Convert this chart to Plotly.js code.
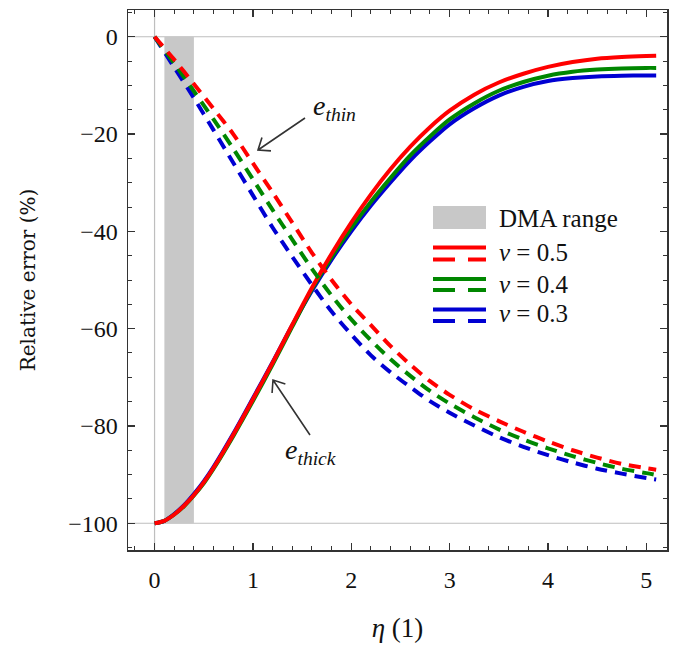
<!DOCTYPE html>
<html><head><meta charset="utf-8">
<script src="https://cdn.plot.ly/plotly-3.0.1.min.js"></script>
<style>html,body{margin:0;padding:0;background:#fff}#chart{width:679px;height:645px}</style>
</head><body><div id="chart"></div>
<script>
// ---- data ----
const etaThick = [0, 0.1, 0.2, 0.3, 0.4, 0.5, 0.6, 0.8, 1.0, 1.2, 1.4, 1.6, 1.8, 2.0, 2.2, 2.4, 2.6, 2.8, 3.0, 3.25, 3.5, 3.75, 4.0, 4.25, 4.5, 4.75, 5.0, 5.1];
const thickNu05 = [-100, -99.5, -98.2, -96.4, -94.2, -91.6, -88.6, -81.8, -74.5, -67.0, -59.2, -51.6, -44.6, -38.2, -32.4, -27.2, -22.6, -18.6, -15.2, -11.9, -9.4, -7.6, -6.2, -5.2, -4.5, -4.15, -3.95, -3.9];
const thickNu04 = [-100, -99.5, -98.2, -96.5, -94.3, -91.8, -88.8, -82.1, -74.9, -67.4, -59.6, -51.9, -45.3, -39.3, -33.9, -29.0, -24.4, -20.5, -17.0, -13.7, -11.1, -9.3, -8.0, -7.2, -6.75, -6.5, -6.4, -6.4];
const thickNu03 = [-100, -99.5, -98.1, -96.3, -94.0, -91.4, -88.4, -81.6, -74.3, -66.9, -59.3, -52.2, -45.8, -40.0, -34.7, -29.9, -25.4, -21.5, -18.0, -14.7, -12.1, -10.3, -9.1, -8.5, -8.15, -8.0, -7.95, -7.95];

const etaThin = [0, 0.2, 0.4, 0.6, 0.8, 1.0, 1.2, 1.4, 1.6, 1.8, 2.0, 2.2, 2.4, 2.6, 2.8, 3.0, 3.25, 3.5, 3.75, 4.0, 4.25, 4.5, 4.75, 5.0, 5.1];
const thinNu05 = [0, -4.7, -9.7, -14.8, -20.0, -26.0, -32.0, -38.2, -44.4, -50.0, -55.0, -59.3, -63.6, -67.4, -70.8, -73.6, -76.6, -79.0, -81.2, -83.2, -85.0, -86.5, -87.8, -88.7, -89.0];
const thinNu04 = [0, -5.5, -11.2, -17.0, -23.0, -29.3, -35.6, -41.7, -47.7, -53.2, -58.1, -62.4, -66.3, -69.7, -72.8, -75.4, -78.2, -80.7, -82.8, -84.6, -86.2, -87.6, -88.8, -89.7, -90.1];
const thinNu03 = [0, -6.3, -12.6, -19.2, -25.9, -32.6, -39.2, -45.2, -51.0, -56.5, -61.2, -65.5, -69.0, -72.0, -74.9, -77.3, -79.9, -82.3, -84.3, -86.0, -87.5, -88.8, -89.8, -90.7, -91.0];

const dmaRange = [0.1, 0.4];
const refLevels = [0, -100];
const nuValues = ['0.5', '0.4', '0.3'];
const dmaLabel = 'DMA range';
const xTitle = '<i>η</i> (1)';
const yTitle = 'Relative error (%)';
const thinLabel = '<i>e</i><sub><i>thin</i></sub>';
const thickLabel = '<i>e</i><sub><i>thick</i></sub>';

// ---- styling ----
const colors = ['rgb(255,0,0)', 'rgb(0,135,0)', 'rgb(0,0,210)'];
const bandColor = 'rgb(200,200,200)';
const W = 679, H = 645, M = {l: 128, r: 12, t: 10, b: 95};
const px = x => (x - M.l) / (W - M.l - M.r);
const py = y => (H - M.b - y) / (H - M.t - M.b);
const serif = 'Liberation Serif, Times New Roman, serif';

const thick = [thickNu05, thickNu04, thickNu03];
const thin = [thinNu05, thinNu04, thinNu03];

const traces = [];
traces.push({
  x: [dmaRange[0], dmaRange[1], dmaRange[1], dmaRange[0], dmaRange[0]],
  y: [refLevels[0], refLevels[0], refLevels[1], refLevels[1], refLevels[0]],
  mode: 'lines', fill: 'toself', fillcolor: bandColor,
  line: {width: 0, color: bandColor}, hoverinfo: 'skip', showlegend: false, name: dmaLabel
});
for (let i = 2; i >= 0; i--) {
  traces.push({x: etaThick, y: thick[i], mode: 'lines', name: 'e_thick ν=' + nuValues[i],
    line: {color: colors[i], width: 4, shape: 'spline', smoothing: 0.8}, showlegend: false});
}
for (let i = 2; i >= 0; i--) {
  traces.push({x: etaThin, y: thin[i], mode: 'lines', name: 'e_thin ν=' + nuValues[i],
    line: {color: colors[i], width: 4, dash: '12px,8px', shape: 'spline', smoothing: 0.8}, showlegend: false});
}

const shapes = [];
refLevels.forEach(v => shapes.push({type: 'line', xref: 'paper', x0: 0, x1: 1, yref: 'y', y0: v, y1: v,
  line: {color: 'rgb(190,190,190)', width: 1.2}, layer: 'below'}));
shapes.push({type: 'line', xref: 'x', x0: 0, x1: 0, yref: 'paper', y0: 0, y1: 1,
  line: {color: 'rgb(190,190,190)', width: 1.2}, layer: 'below'});

// manual legend
const lx0 = 433, lx1 = 486;
shapes.push({type: 'rect', xref: 'paper', yref: 'paper', x0: px(lx0), x1: px(lx1), y0: py(229), y1: py(206),
  fillcolor: bandColor, line: {width: 0}, layer: 'above'});
const rowSolid = [247.5, 279, 309.5];
const rowDash = [259.5, 290, 321];
const rowText = [253, 284, 314];
const annotations = [];
annotations.push({xref: 'paper', yref: 'paper', x: px(497), y: py(218), xanchor: 'left', yanchor: 'middle',
  text: dmaLabel, showarrow: false, font: {family: serif, size: 25, color: '#111'}});
for (let i = 0; i < 3; i++) {
  shapes.push({type: 'line', xref: 'paper', yref: 'paper', x0: px(lx0), x1: px(lx1), y0: py(rowSolid[i]), y1: py(rowSolid[i]),
    line: {color: colors[i], width: 4}, layer: 'above'});
  shapes.push({type: 'line', xref: 'paper', yref: 'paper', x0: px(lx0), x1: px(455), y0: py(rowDash[i]), y1: py(rowDash[i]),
    line: {color: colors[i], width: 4}, layer: 'above'});
  shapes.push({type: 'line', xref: 'paper', yref: 'paper', x0: px(468), x1: px(lx1), y0: py(rowDash[i]), y1: py(rowDash[i]),
    line: {color: colors[i], width: 4}, layer: 'above'});
  annotations.push({xref: 'paper', yref: 'paper', x: px(497), y: py(rowText[i]), xanchor: 'left', yanchor: 'middle',
    text: '<i>ν</i> = ' + nuValues[i], showarrow: false, font: {family: serif, size: 25, color: '#111'}});
}

// curve labels
annotations.push({xref: 'paper', yref: 'paper', x: px(311), y: py(108), xanchor: 'left', yanchor: 'middle',
  text: thinLabel, showarrow: false, font: {family: serif, size: 28, color: '#111'}});
annotations.push({xref: 'paper', yref: 'paper', x: px(283), y: py(451), xanchor: 'left', yanchor: 'middle',
  text: thickLabel, showarrow: false, font: {family: serif, size: 28, color: '#111'}});

// arrows drawn as paths (pixel geometry -> paper units)
function arrowPath(tail, head) {
  const dx = head[0] - tail[0], dy = head[1] - tail[1];
  const len = Math.hypot(dx, dy), ux = dx / len, uy = dy / len;
  const wl = 13, a = 38 * Math.PI / 180;
  const w = s => {
    const c = Math.cos(s * a), sn = Math.sin(s * a);
    const rx = -(ux * c - uy * sn), ry = -(ux * sn + uy * c);
    return [head[0] + wl * rx, head[1] + wl * ry];
  };
  const p1 = w(1), p2 = w(-1);
  const P = p => px(p[0]).toFixed(5) + ',' + py(p[1]).toFixed(5);
  return 'M' + P(tail) + 'L' + P(head) + 'M' + P(p1) + 'L' + P(head) + 'L' + P(p2);
}
shapes.push({type: 'path', xref: 'paper', yref: 'paper', path: arrowPath([305, 118], [258, 150]),
  line: {color: '#333', width: 1.6}, layer: 'above'});
shapes.push({type: 'path', xref: 'paper', yref: 'paper', path: arrowPath([310, 435], [273, 380]),
  line: {color: '#333', width: 1.6}, layer: 'above'});

const axisCommon = {
  ticks: 'inside', ticklen: 7, tickwidth: 1.2, tickcolor: '#333',
  showline: true, linecolor: '#333', linewidth: 1.5, mirror: 'allticks',
  showgrid: false, zeroline: false, automargin: false,
  tickfont: {family: serif, size: 24, color: '#111'}
};
const layout = {
  width: W, height: H, margin: M, paper_bgcolor: '#fff', plot_bgcolor: '#fff',
  showlegend: false,
  xaxis: Object.assign({}, axisCommon, {
    range: [-0.27, 5.21], tick0: 0, dtick: 1, ticklabelstandoff: 8,
    minor: {dtick: 0.2, ticks: 'inside', ticklen: 4, tickwidth: 1, tickcolor: '#333', showgrid: false},
    title: {text: xTitle, font: {family: serif, size: 27, color: '#111'}, standoff: 26}
  }),
  yaxis: Object.assign({}, axisCommon, {
    range: [-105.5, 5.5], tick0: 0, dtick: 20, ticklabelstandoff: 4,
    minor: {dtick: 5, ticks: 'inside', ticklen: 4, tickwidth: 1, tickcolor: '#333', showgrid: false},
    title: {text: yTitle, font: {family: 'DejaVu Serif, serif', size: 20, color: '#111'}, standoff: 27}
  }),
  shapes: shapes, annotations: annotations
};
Plotly.newPlot('chart', traces, layout, {displayModeBar: false, staticPlot: true});
</script></body></html>
